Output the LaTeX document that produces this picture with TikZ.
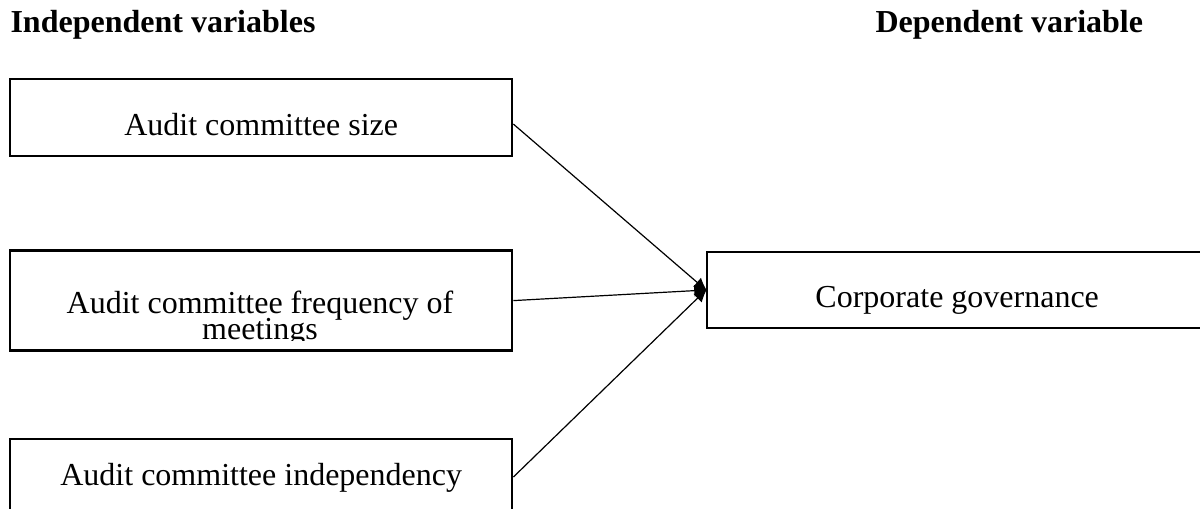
\documentclass[tikz,border=0pt]{standalone}
\usepackage{fontspec}
\setmainfont{Liberation Serif}
\usetikzlibrary{
  arrows.meta,
  positioning,  % Function "of" (e.g. [right=of x])
}
\def\myunit{0.375pt}
\def\mybwidth{188.25pt}
\tikzset{
  font=\fontsize{12pt}{13.8pt}\selectfont,
  semithick,
  >={Latex[length=5pt,width=4.5pt]},
  my head/.style={
    font=\fontsize{12pt}{13.8pt}\selectfont\bfseries,
    anchor=base west,
    inner sep=0mm
  },
  my box/.style={
    draw,
    line width=0.9pt,
    inner sep=0mm,
    minimum width=\mybwidth,
    rectangle
  },
  my link/.style={
    ->,
    line width=0.45pt,
    shorten >=-0.6pt
  }
}
\begin{document}
\begin{tikzpicture}[x=\myunit,y=-\myunit]
\useasboundingbox (0,0) rectangle (1200,509);
\clip (0,0) rectangle (1200,509);
\node[my head] (indep) at (10,33)  {Independent variables};
\node[my head] (dep)   at (875,33) {Dependent variable};
% left column
\node[my box,minimum height=28.875pt,text height=21pt,text depth=7.875pt,
      anchor=north west] (size) at (9,78) {Audit committee size};
\node[my box,minimum height=37.5pt] (freq)  [below=34.5pt of size] {};
\node[my box,minimum height=28.5pt,text height=17.25pt,text depth=11.25pt]
      (indy) [below=32.25pt of freq] {Audit committee independency};
% right column
\node[my box,minimum width=187.5pt,minimum height=28.5pt,text height=21pt,
      text depth=7.5pt,anchor=west] (gov) at (706,290) {Corporate governance};
% text of the middle box is cut off
\begin{scope}
  \clip (freq.north west) rectangle ([yshift=4.1pt]freq.south east);
  \node[align=center,anchor=base,inner sep=0mm] (freqtext) at (260,339.5)
    {Audit committee frequency of\\[-3.9pt]meetings};
\end{scope}
\path[my link] ([yshift=-2.4pt]size.east) edge (gov.west)
               (freq.east)                edge (gov.west)
               (indy.east)                edge (gov.west);
\end{tikzpicture}
\end{document}
